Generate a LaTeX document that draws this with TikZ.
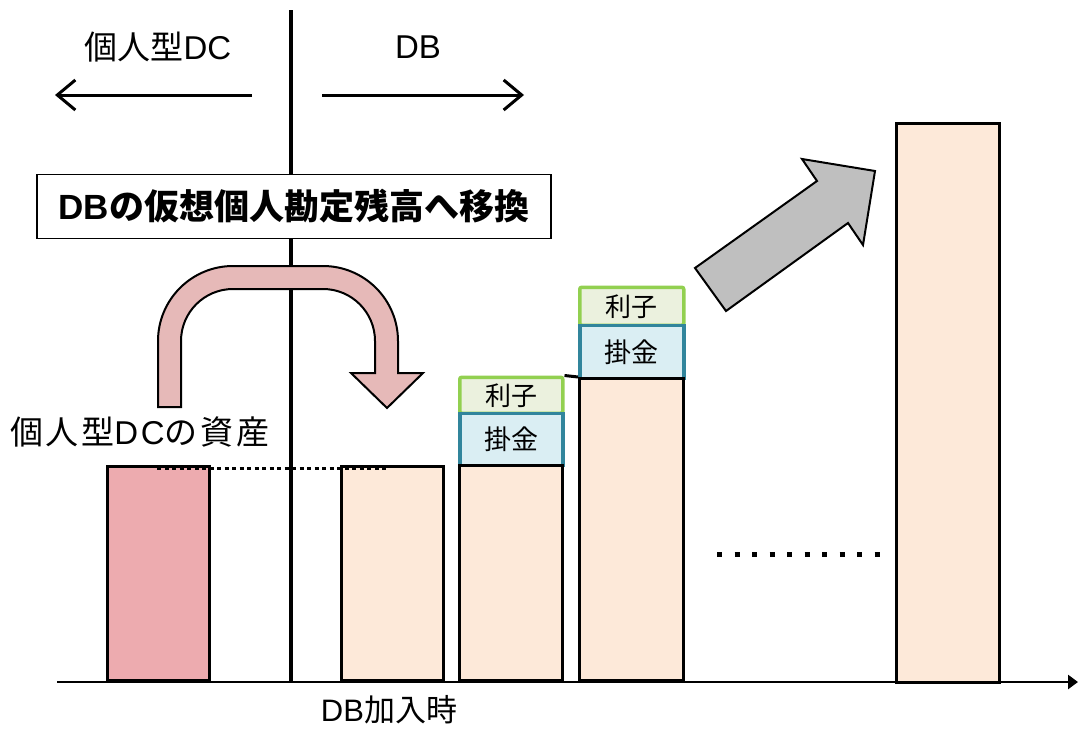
\documentclass[tikz,border=0pt]{standalone}
\usepackage{fontspec}
\setmainfont{Noto Sans CJK JP}
\newfontfamily\lat{Liberation Sans}
\usetikzlibrary{arrows.meta}
\definecolor{upink}{HTML}{E6B9B8}
\definecolor{barpink}{HTML}{EDABAF}
\definecolor{peach}{HTML}{FDE9D9}
\definecolor{kblue}{HTML}{31859C}
\definecolor{kbluef}{HTML}{DAEEF3}
\definecolor{rgreen}{HTML}{92D050}
\definecolor{rgreenf}{HTML}{EBF1DE}
\definecolor{garrow}{HTML}{BFBFBF}
\tikzset{
  bar/.style={draw=black, line width=3pt, fill=peach, inner sep=0pt, anchor=south west},
  kakekin/.style={draw=kblue, fill=kbluef, line width=3.5pt, inner sep=0pt, anchor=south west, font=\fontsize{27}{27}\selectfont},
  rishi/.style={draw=rgreen, fill=rgreenf, line width=3.5pt, rounded corners=2pt, inner sep=0pt, anchor=south west, font=\fontsize{26}{26}\selectfont},
  lbl/.style={inner sep=0pt, font=\fontsize{33}{33}\selectfont},
}
\begin{document}
\begin{tikzpicture}[x=1pt,y=-1pt]
\useasboundingbox (0,0) rectangle (1078,728);
% top labels and arrows
\node[lbl] (dcl) at (158,47) {個人型{\lat DC}};
\node[lbl] (dbl) at (418,47) {\lat DB};
\coordinate (la1) at (252,95); \coordinate (la2) at (55,95);
\coordinate (ra1) at (322,95); \coordinate (ra2) at (524,95);
\draw[line width=3pt, -{Straight Barb[length=18pt,width=30pt,line width=3pt]}] (la1) -- (la2);
\draw[line width=3pt, -{Straight Barb[length=18pt,width=30pt,line width=3pt]}] (ra1) -- (ra2);
% vertical divider
\coordinate (v1) at (291,10); \coordinate (v2) at (291,682);
\draw[line width=4pt] (v1) -- (v2);
% title box
\node[draw=black, line width=1.2pt, fill=white, minimum width=514pt, minimum height=64pt, inner sep=0pt,
  font=\fontsize{35}{35}\selectfont\bfseries] (title) at (294,206.5) {{\lat\bfseries DB}の仮想個人勘定残高へ移換};
% U-turn arrow
\draw[line width=2pt, fill=upink, line join=miter] (158,407) -- (158,341) .. controls (158,299.6) and (191.6,266) .. (233,266)
  -- (323,266) .. controls (364.4,266) and (398,299.6) .. (398,341) -- (398,373) -- (423,373) -- (387,408) -- (351,373)
  -- (375,373) -- (375,341) .. controls (375,312.3) and (351.7,289) .. (323,289) -- (233,289)
  .. controls (204.3,289) and (181,312.3) .. (181,341) -- (181,407) -- cycle;
% label
\node[lbl, anchor=west] (asset) at (10,432) {\addfontfeature{LetterSpace=8}個人型{\lat\addfontfeature{LetterSpace=8}DC}の資産};
% bars
\node[bar, fill=barpink, minimum width=102pt, minimum height=214pt] (b1) at (106,682) {};
\node[bar, minimum width=102pt, minimum height=214pt] (b2) at (340,682) {};
\node[rishi, minimum width=103pt, minimum height=36pt] (r3) at (458,415) {利子};
\node[kakekin, minimum width=103pt, minimum height=52pt] (k3) at (458,467) {掛金};
\node[bar, minimum width=103pt, minimum height=215pt] (b3) at (458,682) {};
\node[rishi, minimum width=104pt, minimum height=38pt] (r4) at (578,327) {利子};
\node[kakekin, minimum width=104pt, minimum height=53pt] (k4) at (578,380) {掛金};
\node[bar, minimum width=104pt, minimum height=302pt] (b4) at (578,682) {};
\node[bar, minimum width=103pt, minimum height=559pt] (b5) at (895,684) {};
% connectors
\draw[line width=3pt] (r3.north east) -- (b4.north west);
\coordinate (d1) at (157,468); \coordinate (d2) at (387,468);
\draw[line width=3pt, dash pattern=on 4pt off 3.5pt] (d1) -- (d2);
\coordinate (e1) at (717,554); \coordinate (e2) at (880,554);
\draw[line width=5pt, dash pattern=on 5pt off 12.5pt] (e1) -- (e2);
% axis
\coordinate (ax1) at (57,682); \coordinate (ax2) at (1078,682);
\draw[line width=2.5pt, -{Triangle[length=10pt,width=14pt]}] (ax1) -- (ax2);
% gray arrow
\draw[line width=2pt, fill=garrow, line join=miter] (695,268) -- (726,311) -- (848,223) -- (863,245) -- (875,171) -- (802,159) -- (817,181) -- cycle;
% bottom label
\node[lbl, font=\fontsize{31}{31}\selectfont] (dbjoin) at (389,710) {{\lat DB}加入時};
\end{tikzpicture}
\end{document}
